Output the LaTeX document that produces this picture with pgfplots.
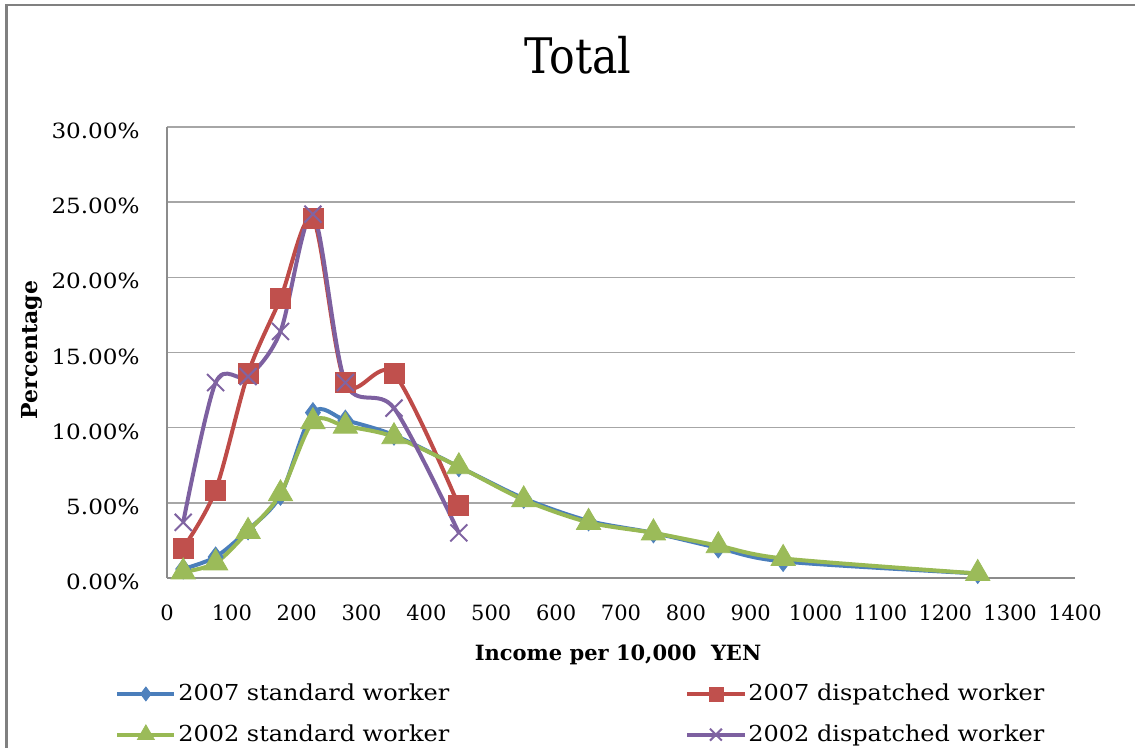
\documentclass[border=0pt]{standalone}
\usepackage{fontspec}
\setmainfont{DejaVu Serif}
\newfontfamily\widefont[FakeStretch=1.09]{DejaVu Serif}
\newfontfamily\ywidefont[FakeStretch=1.1]{DejaVu Serif}
\usepackage{pgfplots}
\pgfplotsset{compat=1.18}
\definecolor{cblue}{HTML}{4A7EBB}
\definecolor{cred}{HTML}{BE4B48}
\definecolor{cgreen}{HTML}{98B954}
\definecolor{cpurple}{HTML}{7D60A0}
\definecolor{mblue}{HTML}{4F81BD}
\definecolor{mred}{HTML}{C0504D}
\definecolor{mgreen}{HTML}{9BBB59}
\definecolor{mpurple}{HTML}{8064A2}
\begin{document}
\begin{tikzpicture}
\path[use as bounding box] (0,0) rectangle (567.5pt,374pt);
\draw[color=black!50, line width=1.2pt] (3.2pt,0) -- (3.2pt,371.6pt) -- (567.5pt,371.6pt);
\begin{axis}[
  at={(83.5pt,85pt)}, anchor=south west,
  scale only axis, width=454pt, height=225.5pt,
  xmin=0, xmax=1400, ymin=0, ymax=30,
  xtick={0,100,...,1400}, ytick={0,5,...,30},
  yticklabels={0.00\%,5.00\%,10.00\%,15.00\%,20.00\%,25.00\%,30.00\%},
  major tick length=0pt,
  axis x line*=bottom, axis y line*=left,
  axis line style={color=black!45, line width=0.8pt},
  ymajorgrids, major grid style={color=black!35, line width=0.8pt},
  clip=false,
  /pgf/number format/assume math mode=true,
  /pgf/number format/1000 sep={},
  tick label style={font=\fontsize{10.5pt}{12pt}\selectfont, inner sep=0pt},
  xticklabel style={anchor=base, yshift=-21.5pt},
  yticklabel style={anchor=east, xshift=-13.5pt, yshift=-2pt, font=\ywidefont\fontsize{10.5pt}{12pt}\selectfont},
  title={\scalebox{0.87}[1]{Total}},
  title style={at={(axis description cs:0.4527,1.115)}, anchor=base, yshift=-5pt, font=\fontsize{24.5pt}{30pt}\selectfont},
  xlabel={Income per 10,000\ \ YEN},
  xlabel style={at={(axis description cs:0.4967,-0.182)}, anchor=base, font=\bfseries\fontsize{10.5pt}{12pt}\selectfont},
  ylabel={Percentage},
  ylabel style={at={(axis description cs:-0.1487,0.5055)}, anchor=center, font=\bfseries\fontsize{11pt}{12pt}\selectfont},
  legend columns=2,
  legend style={draw=none, fill=none, inner sep=0pt,
    at={(axis description cs:-0.0573,-0.230)}, anchor=north west,
    font=\widefont\fontsize{11pt}{12pt}\selectfont,
    nodes={inner sep=1pt},
    row sep=8.5pt,
    /tikz/every even column/.append style={column sep=117pt}},
  legend cell align=left,
  legend image code/.code={\draw[mark repeat=2,mark phase=2,every mark/.append style={scale=0.7}] plot coordinates {(0pt,0pt)(14.25pt,0pt)(28.5pt,0pt)};},
  every axis plot/.append style={line width=2pt, smooth},
]
\addplot[color=cblue, mark=diamond*, mark size=5pt, mark options={solid, fill=mblue, draw=mblue, line width=0.4pt}]
coordinates {(25,0.6)(75,1.4)(125,3.2)(175,5.5)(225,11.0)(275,10.5)(350,9.5)(450,7.4)(550,5.3)(650,3.8)(750,3.0)(850,2.0)(950,1.1)(1250,0.3)};
\addlegendentry{2007 standard worker}
\addplot[color=cred, mark=square*, mark size=5pt, mark options={solid, fill=mred, draw=mred, line width=0.4pt}]
coordinates {(25,2.0)(75,5.85)(125,13.6)(175,18.6)(225,23.9)(275,13.0)(350,13.6)(450,4.8)};
\addlegendentry{2007 dispatched worker}
\addplot[color=cgreen, mark=triangle*, mark size=7pt, mark options={solid, fill=mgreen, draw=mgreen, line width=0.4pt}]
coordinates {(25,0.4)(75,1.0)(125,3.1)(175,5.6)(225,10.4)(275,10.1)(350,9.4)(450,7.4)(550,5.2)(650,3.7)(750,3.0)(850,2.15)(950,1.3)(1250,0.3)};
\addlegendentry{2002 standard worker}
\addplot[color=cpurple, mark=x, mark size=6pt, mark options={solid, draw=mpurple, line width=1pt}]
coordinates {(25,3.7)(75,13.0)(125,13.4)(175,16.4)(225,24.2)(275,13.0)(350,11.3)(450,3.0)};
\addlegendentry{2002 dispatched worker}
\end{axis}
\end{tikzpicture}
\end{document}
